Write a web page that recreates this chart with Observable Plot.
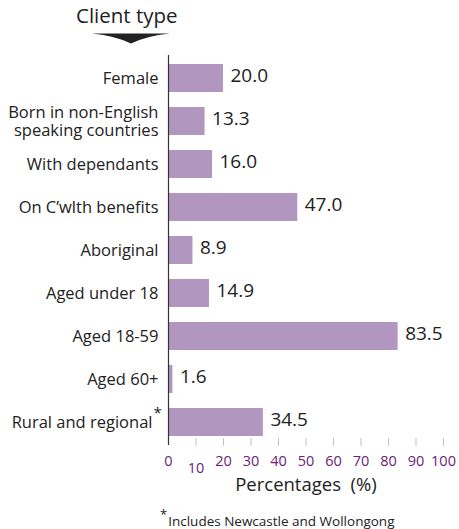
<!DOCTYPE html>
<html><head><meta charset="utf-8">
<script src="https://cdn.jsdelivr.net/npm/d3@7"></script>
<script src="https://cdn.jsdelivr.net/npm/@observablehq/plot@0.6"></script>
<style>
body{margin:0;background:#fff;font-family:"Open Sans",sans-serif;}
#wrap{position:relative;width:459px;height:529px;overflow:hidden;}
#chart{position:absolute;left:0;top:0;}
#title{position:absolute;left:76px;top:1px;font-size:20.5px;color:#222;white-space:nowrap;}
#arrow{position:absolute;left:0;top:0;}
#foot{position:absolute;left:160px;top:506px;font-size:13.5px;color:#222;white-space:nowrap;}
#foot sup{font-size:13px;position:relative;top:-1px;margin-right:1px;}
</style></head><body>
<div id="wrap">
<div id="chart"></div>
<div id="title">Client type</div>
<svg id="arrow" width="459" height="60"><path d="M92,33.5 L170,33.5 Q146,36 131,43.5 Q116,36 92,33.5 Z" fill="#222"/></svg>
<div id="foot"><sup>*</sup>Includes Newcastle and Wollongong</div>
</div>
<script>
const categories = ["Female","Born in non-English\nspeaking countries","With dependants","On C\u2019wlth benefits","Aboriginal","Aged under 18","Aged 18-59","Aged 60+","Rural and regional"];
const values = [20.0, 13.3, 16.0, 47.0, 8.9, 14.9, 83.5, 1.6, 34.5];
const xTicks = [0,10,20,30,40,50,60,70,80,90,100];
const loweredTick = 10;
const xTitle = "Percentages\u00a0\u00a0(%)";
const starredCategory = "Rural and regional";

const data = categories.map((c,i)=>({cat:c, v:values[i]}));
const tickShape = {draw(ctx,l){ctx.moveTo(0,0);ctx.lineTo(0,-l);}};

const chart = Plot.plot({
  width:459, height:500,
  marginTop:55, marginBottom:55, marginLeft:168, marginRight:16,
  style:{fontFamily:'"Open Sans",sans-serif', color:"#222", background:"transparent"},
  x:{domain:[0,100]},
  y:{domain:categories, paddingInner:0.355, paddingOuter:0.18},
  marks:[
    Plot.barX(data,{x:"v", y:"cat", fill:"#b197c0"}),
    Plot.vectorX(xTicks.filter(d=>d>0),{x:d=>d, frameAnchor:"bottom", length:7, rotate:0, anchor:"start", shape:tickShape, stroke:"#cbb7d1", strokeWidth:1}),
    Plot.ruleX([0],{stroke:"#333", strokeWidth:1.2}),
    Plot.axisX({ticks:xTicks.filter(d=>d!==loweredTick), tickSize:0, tickPadding:10, line:true, stroke:"#333", fill:"#6b2277", fontSize:14.5, label:null}),
    Plot.axisX({ticks:[loweredTick], tickSize:0, tickPadding:17, fill:"#6b2277", fontSize:14.5, label:null}),
    Plot.axisY({ticks:categories.filter(c=>c!==starredCategory), tickSize:0, tickPadding:10, fontSize:16.5, lineHeight:1.05, fill:"#222", label:null}),
    Plot.axisY({ticks:[starredCategory], tickSize:0, tickPadding:16, fontSize:16.5, fill:"#222", label:null}),
    Plot.text([starredCategory],{y:d=>d, x:0, text:()=>"*", dx:-11, dy:-9, fontSize:15, fill:"#222"}),
    Plot.text(data,{x:"v", y:"cat", text:d=>d.v.toFixed(1), dx:7, dy:-3, textAnchor:"start", fontSize:19, fill:"#222"}),
    Plot.text([xTitle],{frameAnchor:"bottom", x:50, text:d=>d, dy:45, fontSize:18.5, fill:"#222"})
  ]
});
document.getElementById("chart").appendChild(chart);
</script>
</body></html>
